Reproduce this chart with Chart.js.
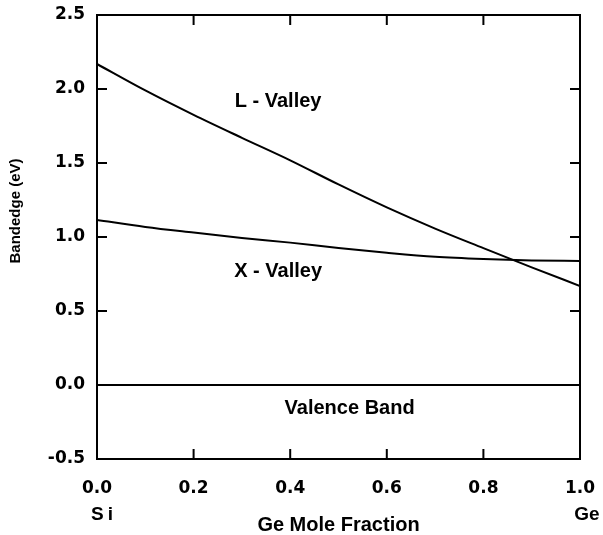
<!DOCTYPE html>
<html>
<head>
<meta charset="utf-8">
<script src="https://cdn.jsdelivr.net/npm/chart.js@4.4.1/dist/chart.umd.min.js"></script>
<style>
  html, body { margin: 0; padding: 0; background: #fff; }
  #wrap { width: 603px; height: 535px; }
</style>
</head>
<body>
<div id="wrap"><canvas id="bandChart" width="603" height="535"></canvas></div>
<script>
// Ge mole fraction (x axis)
const geFraction = [0, 0.1, 0.2, 0.3, 0.4, 0.5, 0.6, 0.7, 0.8, 0.9, 1.0];

// band edges in eV
const lValley  = [2.169, 1.99, 1.825, 1.67, 1.518, 1.355, 1.20, 1.057, 0.925, 0.795, 0.669];
const xValley  = [1.115, 1.068, 1.03, 0.994, 0.962, 0.925, 0.893, 0.866, 0.851, 0.842, 0.838];
const valence  = [0, 0, 0, 0, 0, 0, 0, 0, 0, 0, 0];

// tick values
const xTicks = [0, 0.2, 0.4, 0.6, 0.8, 1.0];
const yTicks = [-0.5, 0, 0.5, 1.0, 1.5, 2.0, 2.5];

// in-plot labels (data coordinates)
const curveLabels = ["L - Valley", "X - Valley", "Valence Band"];
const labelX = [0.375, 0.375, 0.523];
const labelY = [1.878, 0.73, -0.196];

function toPoints(ys) {
  return geFraction.map((x, i) => ({ x: x, y: ys[i] }));
}

function makeSet(name, ys) {
  return {
    label: name,
    data: toPoints(ys),
    borderColor: '#000',
    borderWidth: 2,
    pointRadius: 0,
    fill: false,
    cubicInterpolationMode: 'monotone'
  };
}

// draws the box, inward ticks and all the extra text
const framePlugin = {
  id: 'frame',
  afterDraw(chart) {
    const ctx = chart.ctx;
    const a = chart.chartArea;
    const xs = chart.scales.x;
    const ys = chart.scales.y;
    const tick = 10;

    ctx.save();
    ctx.strokeStyle = '#000';
    ctx.lineWidth = 2;
    ctx.strokeRect(a.left, a.top, a.right - a.left, a.bottom - a.top);

    ctx.beginPath();
    xTicks.forEach(v => {
      const px = xs.getPixelForValue(v);
      ctx.moveTo(px, a.bottom); ctx.lineTo(px, a.bottom - tick);
      ctx.moveTo(px, a.top); ctx.lineTo(px, a.top + tick);
    });
    yTicks.forEach(v => {
      const py = ys.getPixelForValue(v);
      ctx.moveTo(a.left, py); ctx.lineTo(a.left + tick, py);
      ctx.moveTo(a.right, py); ctx.lineTo(a.right - tick, py);
    });
    ctx.stroke();

    ctx.fillStyle = '#000';
    ctx.textAlign = 'center';
    ctx.textBaseline = 'alphabetic';
    ctx.font = 'bold 20px "Liberation Sans", Arial, sans-serif';
    curveLabels.forEach((t, i) => {
      ctx.fillText(t, xs.getPixelForValue(labelX[i]), ys.getPixelForValue(labelY[i]));
    });

    // x axis title and end labels
    ctx.fillText('Ge Mole Fraction', (a.left + a.right) / 2, 531);
    ctx.font = 'bold 19px "Liberation Sans", Arial, sans-serif';
    ctx.letterSpacing = '4px';
    ctx.fillText('Si', xs.getPixelForValue(0) + 7, 520);
    ctx.letterSpacing = '0px';
    ctx.fillText('Ge', xs.getPixelForValue(1) + 7, 520);

    // y axis title
    ctx.translate(20, 211);
    ctx.rotate(-Math.PI / 2);
    ctx.font = 'bold 15px "Liberation Sans", Arial, sans-serif';
    ctx.fillText('Bandedge (eV)', 0, 0);
    ctx.restore();
  }
};

const tickFont = { family: '"DejaVu Sans", sans-serif', size: 17, weight: 'bold' };

new Chart(document.getElementById('bandChart').getContext('2d'), {
  type: 'line',
  data: {
    datasets: [
      makeSet('L - Valley', lValley),
      makeSet('X - Valley', xValley),
      makeSet('Valence Band', valence)
    ]
  },
  options: {
    responsive: false,
    animation: false,
    layout: { padding: { left: 0, top: 15, right: 23, bottom: 0 } },
    plugins: {
      legend: { display: false },
      tooltip: { enabled: false }
    },
    scales: {
      x: {
        type: 'linear',
        min: 0,
        max: 1,
        afterBuildTicks: s => { s.ticks = xTicks.map(v => ({ value: v })); },
        afterFit: s => { s.height = 76; s.paddingLeft = 0; s.paddingRight = 0; },
        ticks: {
          color: '#000',
          font: tickFont,
          padding: 19,
          maxRotation: 0,
          callback: v => Number(v).toFixed(1)
        },
        grid: { display: false, drawTicks: false },
        border: { display: false }
      },
      y: {
        type: 'linear',
        min: -0.5,
        max: 2.5,
        afterBuildTicks: s => { s.ticks = yTicks.map(v => ({ value: v })); },
        afterFit: s => { s.width = 97; s.paddingTop = 0; s.paddingBottom = 0; },
        ticks: {
          color: '#000',
          font: tickFont,
          padding: 12,
          callback: v => Number(v).toFixed(1)
        },
        grid: { display: false, drawTicks: false },
        border: { display: false }
      }
    }
  },
  plugins: [framePlugin]
});
</script>
</body>
</html>
